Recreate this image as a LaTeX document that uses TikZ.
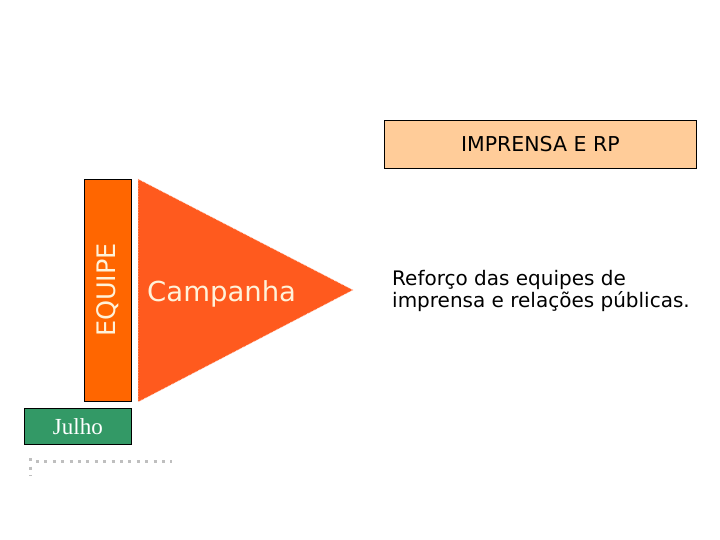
\documentclass[tikz,border=0pt]{standalone}
\usepackage{fontspec}
\setmainfont{DejaVu Sans}
\newfontfamily\serifjul{Liberation Serif}
\definecolor{eqorange}{HTML}{FF6600}
\definecolor{trired}{HTML}{FF5A1E}
\definecolor{julgreen}{HTML}{339966}
\definecolor{peach}{HTML}{FFCC99}
\definecolor{dotgray}{HTML}{BFBFBF}
\definecolor{txtcream}{HTML}{FFF2D9}
\tikzset{
  boxstyle/.style={draw=black, line width=0.8pt, inner sep=0pt},
}
\begin{document}
\begin{tikzpicture}[x=1pt,y=-1pt]
\useasboundingbox[fill=white] (0,0) rectangle (720,540);
% IMPRENSA box
\node[boxstyle, fill=peach, minimum width=312pt, minimum height=48pt, anchor=north west,
  font=\fontsize{20.5}{24}\selectfont] (imp) at (384,120) {IMPRENSA E RP};
% triangle
\coordinate (ta) at (138,179);
\coordinate (tb) at (138,402);
\coordinate (tc) at (353,290);
\path[fill=trired, draw=white!85!trired, line width=0.6pt, densely dotted] (ta) -- (tc) -- (tb) -- cycle;
\node[text=txtcream, anchor=base west, inner sep=0pt, font=\fontsize{27.5}{32}\selectfont] (camp) at (147,301) {Campanha};
% EQUIPE
\node[boxstyle, fill=eqorange, minimum width=47pt, minimum height=222pt, anchor=north west] (eq) at (84,179) {};
\node[text=txtcream, rotate=90, inner sep=0pt, font=\fontsize{25.5}{30}\selectfont] (eqt) at (108,290) {EQUIPE};
% Julho
\node[boxstyle, fill=julgreen, minimum width=107pt, minimum height=36pt, anchor=north west,
  text=white, font=\serifjul\fontsize{23}{27}\selectfont] (jul) at (24,408) {Julho};
% description
\node[anchor=base west, align=left, font=\fontsize{20}{21.5}\selectfont, inner sep=0pt] (desc) at (392,307)
  {Reforço das equipes de\\imprensa e relações públicas.};
% dotted marks
\coordinate (d1) at (36,461);
\coordinate (d2) at (172,461);
\draw[dotgray, line width=3pt, dash pattern=on 3pt off 5.4pt] (d1) -- (d2);
\coordinate (v1) at (30,458);
\coordinate (v2) at (30,476);
\draw[dotgray, line width=3pt, dash pattern=on 3pt off 5.5pt] (v1) -- (v2);
\end{tikzpicture}
\end{document}
